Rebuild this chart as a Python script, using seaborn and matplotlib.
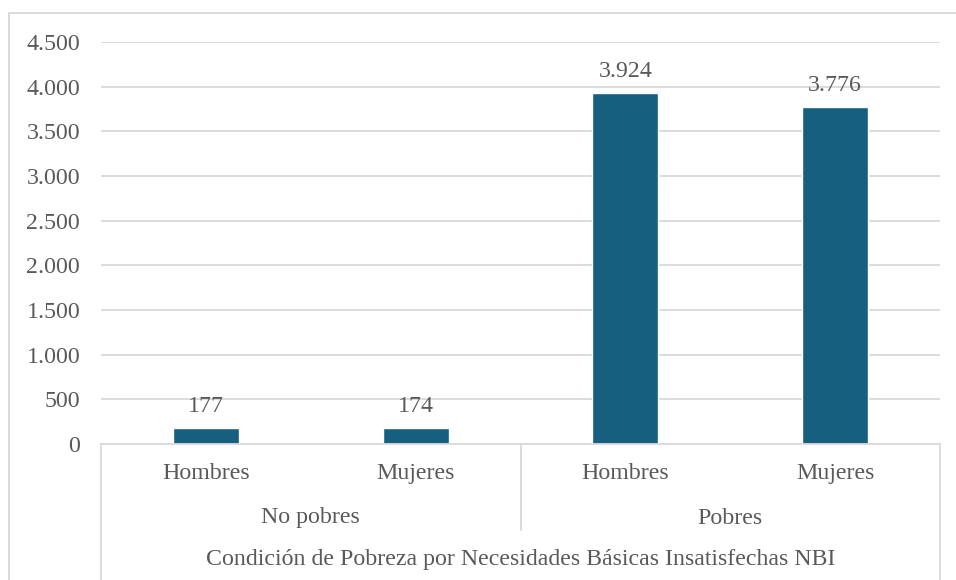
import matplotlib
matplotlib.use("Agg")
import matplotlib.pyplot as plt
import seaborn as sns
import pandas as pd
from matplotlib.lines import Line2D
from matplotlib.patches import Rectangle

# datos
condicion = ["No pobres", "No pobres", "Pobres", "Pobres"]
sexo = ["Hombres", "Mujeres", "Hombres", "Mujeres"]
valores = [177, 174, 3924, 3776]
titulo_eje = "Condición de Pobreza por Necesidades Básicas Insatisfechas NBI"

df = pd.DataFrame({"condicion": condicion, "sexo": sexo, "valor": valores})
df["clave"] = df["condicion"] + " - " + df["sexo"]

sns.set_style("white")
plt.rcParams["font.family"] = ["Liberation Serif", "DejaVu Serif"]

W, H = 956, 580
fig = plt.figure(figsize=(W / 100, H / 100), dpi=100)
ax = fig.add_axes([101 / W, 1 - 444 / H, (940 - 101) / W, (444 - 42) / H])

color_barra = "#175f7f"
gris_txt = "#595959"
gris_lin = "#d9d9d9"
fs = 17.2

sns.barplot(data=df, x="clave", y="valor", order=list(df["clave"]),
            color=color_barra, width=0.315, saturation=1, ax=ax, zorder=3)

ax.set_xlim(-0.5, 3.5)
ax.set_ylim(0, 4500)
ax.set_yticks(range(0, 4501, 500))
ax.set_yticklabels([f"{v:,}".replace(",", ".") for v in range(0, 4501, 500)],
                   fontsize=fs, color=gris_txt)
ax.tick_params(axis="y", length=0, pad=15)
ax.yaxis.grid(True, color=gris_lin, linewidth=1.3, zorder=0)
ax.set_axisbelow(True)
for s in ["top", "right", "left"]:
    ax.spines[s].set_visible(False)
ax.spines["bottom"].set_color(gris_lin)
ax.spines["bottom"].set_linewidth(1.3)
ax.spines["bottom"].set_zorder(4)

ax.set_xticks(range(len(sexo)))
ax.set_xticklabels(sexo, fontsize=fs, color=gris_txt)
ax.tick_params(axis="x", length=0, pad=14)
ax.set_xlabel("")
ax.set_ylabel("")

# etiquetas de datos
for i, v in enumerate(valores):
    ax.annotate(f"{v:,}".replace(",", "."), (i, v), xytext=(0, 8),
                textcoords="offset points", ha="center", va="bottom",
                fontsize=fs, color=gris_txt)

# segundo nivel del eje de categorias
grupos = list(dict.fromkeys(condicion))
for g in grupos:
    idx = [i for i, c in enumerate(condicion) if c == g]
    xc = (idx[0] + idx[-1]) / 2
    ax.text(xc, -74 / 402, g, transform=ax.get_xaxis_transform(),
            ha="center", va="center", fontsize=fs, color=gris_txt)

ax.text(0.5, -116 / 402, titulo_eje, transform=ax.transAxes,
        ha="center", va="center", fontsize=fs, color=gris_txt)

# separadores
trans = ax.get_xaxis_transform()
for xs, y_fin in [(-0.5, -1.0), (1.5, -86 / 402), (3.5, -1.0)]:
    ax.add_line(Line2D([xs, xs], [0, y_fin], transform=trans, color=gris_lin,
                       linewidth=1.3, clip_on=False))

# borde del grafico (solo arriba e izquierda visibles)
fig.patches.append(Rectangle((9 / W, -0.1), 1.1, 1 - 13 / H + 0.1,
                             transform=fig.transFigure, fill=False,
                             edgecolor=gris_lin, linewidth=1.3))

fig.savefig("out.png", dpi=100, facecolor="white")
